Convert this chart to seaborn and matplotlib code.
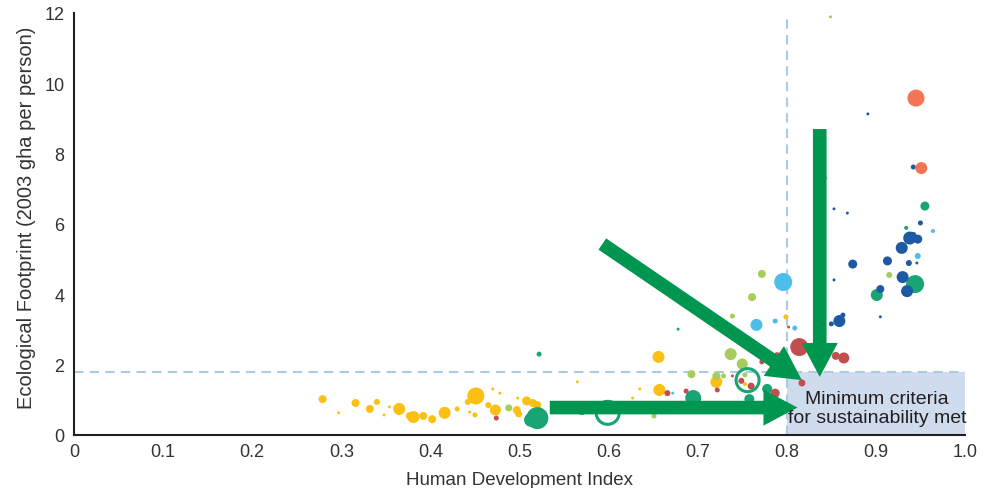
import numpy as np
import pandas as pd
import matplotlib
matplotlib.use("Agg")
import matplotlib.pyplot as plt
import seaborn as sns

# Values: HDI, footprint (gha/person), bubble size
africa_hdi = [0.279, 0.297, 0.316, 0.332, 0.340, 0.348, 0.354, 0.365, 0.377, 0.381,
              0.392, 0.402, 0.416, 0.430, 0.451, 0.442, 0.444, 0.450, 0.470, 0.478,
              0.465, 0.473, 0.498, 0.497, 0.508, 0.515, 0.520, 0.499, 0.512, 0.565,
              0.635, 0.627, 0.656, 0.657, 0.721, 0.753, 0.799]
africa_ef = [1.02, 0.63, 0.91, 0.74, 0.94, 0.57, 0.80, 0.74, 0.54, 0.51,
             0.54, 0.45, 0.63, 0.74, 1.11, 0.94, 0.65, 0.57, 1.31, 1.19,
             0.85, 0.71, 1.05, 0.71, 0.97, 0.91, 0.85, 0.60, 0.54, 1.51,
             1.31, 1.05, 2.22, 1.28, 1.51, 1.45, 3.36]
africa_size = [166, 23, 166, 166, 94, 23, 23, 374, 166, 374,
               166, 166, 374, 65, 751, 94, 23, 65, 23, 23,
               94, 315, 23, 166, 211, 166, 166, 127, 23, 23,
               23, 23, 374, 374, 374, 42, 65]

mideast_hdi = [0.488, 0.651, 0.693, 0.721, 0.729, 0.753, 0.737, 0.750, 0.739, 0.761,
               0.772, 0.844, 0.849, 0.915]
mideast_ef = [0.77, 0.54, 1.73, 1.68, 1.68, 1.71, 2.30, 2.02, 3.38, 3.92,
              4.58, 7.31, 11.89, 4.55]
mideast_size = [127, 65, 166, 166, 65, 65, 374, 315, 65, 166,
                166, 23, 23, 94]

asia_hdi = [0.522, 0.520, 0.513, 0.570, 0.678, 0.695, 0.758, 0.778, 0.934, 0.955,
            0.944, 0.901]
asia_ef = [2.30, 0.48, 0.43, 0.68, 3.01, 1.05, 1.02, 1.31, 5.89, 6.51,
           4.29, 3.98]
asia_size = [65, 1258, 510, 166, 23, 666, 260, 260, 42, 211,
             842, 374]

# India and China drawn as open rings
ring_hdi = [0.599, 0.756]
ring_ef = [0.63, 1.56]

latam_hdi = [0.474, 0.666, 0.687, 0.722, 0.739, 0.749, 0.760, 0.787, 0.817, 0.802,
             0.772, 0.789, 0.814, 0.855, 0.864]
latam_ef = [0.48, 1.19, 1.25, 1.28, 1.68, 1.54, 1.39, 1.19, 1.48, 3.07,
            2.08, 2.27, 2.50, 2.25, 2.19]
latam_size = [65, 94, 65, 65, 23, 94, 127, 211, 127, 23,
              65, 94, 842, 166, 315]

ceeurope_hdi = [0.672, 0.766, 0.787, 0.796, 0.809, 0.947, 0.964]
ceeurope_ef = [1.19, 3.13, 3.24, 4.35, 3.04, 5.09, 5.80]
ceeurope_size = [23, 374, 65, 842, 65, 94, 42]

weurope_hdi = [0.891, 0.942, 0.853, 0.868, 0.950, 0.938, 0.947, 0.942, 0.929, 0.913,
               0.937, 0.946, 0.874, 0.930, 0.935, 0.905, 0.853, 0.905, 0.859, 0.863,
               0.850]
weurope_ef = [9.13, 7.62, 6.43, 6.31, 6.03, 5.60, 5.57, 5.69, 5.32, 4.95,
              4.89, 4.89, 4.86, 4.49, 4.09, 4.15, 4.41, 3.36, 3.24, 3.41,
              3.16]
weurope_size = [23, 65, 23, 23, 65, 440, 211, 94, 374, 211,
                94, 23, 211, 374, 374, 166, 23, 23, 374, 65,
                65]

namerica_hdi = [0.945, 0.951]
namerica_ef = [9.58, 7.59]
namerica_size = [751, 374]

biocapacity = 1.78
hdi_threshold = 0.8

# arrows (start -> tip) in data units
arrow_starts = [(0.534, 0.78), (0.593, 5.43), (0.837, 8.70)]
arrow_tips = [(0.812, 0.78), (0.817, 1.56), (0.837, 1.65)]

palette = {
    "Africa": "#fcbf14",
    "Middle East and Central Asia": "#a5cd5c",
    "Asia-Pacific": "#18a473",
    "Latin America and Caribbean": "#c0504f",
    "Central and Eastern Europe": "#4dbee9",
    "Western Europe": "#1d5aa3",
    "North America": "#f47456",
}

parts = [
    ("Africa", africa_hdi, africa_ef, africa_size),
    ("Middle East and Central Asia", mideast_hdi, mideast_ef, mideast_size),
    ("Asia-Pacific", asia_hdi, asia_ef, asia_size),
    ("Latin America and Caribbean", latam_hdi, latam_ef, latam_size),
    ("Central and Eastern Europe", ceeurope_hdi, ceeurope_ef, ceeurope_size),
    ("Western Europe", weurope_hdi, weurope_ef, weurope_size),
    ("North America", namerica_hdi, namerica_ef, namerica_size),
]
df = pd.concat([pd.DataFrame({"region": r, "hdi": x, "ef": y, "size": s})
                for r, x, y, s in parts], ignore_index=True)

sns.set_style("white")
plt.rcParams["font.family"] = ["Liberation Sans", "DejaVu Sans"]

ink = "#231f20"
label_grey = "#333333"
dash_blue = "#a9cbe9"
arrow_green = "#00964f"

fig = plt.figure(figsize=(9.88, 4.89), dpi=100)
ax = fig.add_axes([0.0749, 0.1084, 0.9018, 0.863])

# sustainability quadrant
ax.fill_between([hdi_threshold, 1.0], 0, biocapacity, color="#cfdcee", lw=0, zorder=0)
ax.plot([0, 1.0], [biocapacity, biocapacity], color=dash_blue, lw=1.5,
        dashes=(4.5, 3), zorder=1)
ax.plot([hdi_threshold, hdi_threshold], [0, 12], color=dash_blue, lw=1.5,
        dashes=(4.5, 3), zorder=1)

sns.scatterplot(data=df, x="hdi", y="ef", hue="region", size="size",
                palette=palette, sizes=(0, 260), size_norm=(0, 1300),
                linewidth=0, edgecolor="none", alpha=1, legend=False,
                ax=ax, zorder=3)
ax.scatter(ring_hdi, ring_ef, s=275, facecolors="none",
           edgecolors=palette["Asia-Pacific"], linewidths=2.2, zorder=3)

for (x0, y0), (x1, y1) in zip(arrow_starts, arrow_tips):
    ax.annotate("", xy=(x1, y1), xytext=(x0, y0),
                arrowprops=dict(arrowstyle="simple,head_length=2.45,head_width=2.6,tail_width=0.98",
                                mutation_scale=10, color=arrow_green, lw=0,
                                shrinkA=0, shrinkB=0),
                zorder=5)

ax.text(0.901, 0.77, "Minimum criteria\nfor sustainability met", ha="center",
        va="center", fontsize=14, color=ink, linespacing=1.2, zorder=6)

ax.set_xlim(0, 1.0)
ax.set_ylim(0, 12)
ax.set_xticks(np.arange(0, 1.01, 0.1))
ax.set_xticklabels(["0"] + [f"{v:.1f}" for v in np.arange(0.1, 1.01, 0.1)])
ax.set_yticks(range(0, 13, 2))
ax.tick_params(direction="in", length=5, width=1.5, colors=ink, labelsize=13,
               labelcolor=label_grey)
ax.tick_params(axis="x", pad=6)
ax.tick_params(axis="y", pad=7)
ax.set_xlabel("Human Development Index", fontsize=13.5, color=label_grey, labelpad=8)
ax.set_ylabel("Ecological Footprint (2003 gha per person)", fontsize=14.5,
              color=label_grey)
ax.yaxis.set_label_coords(-0.043, 0.516)
for side in ["top", "right"]:
    ax.spines[side].set_visible(False)
for side in ["left", "bottom"]:
    ax.spines[side].set_color(ink)
    ax.spines[side].set_linewidth(1.5)

plt.savefig("out.png", dpi=100)
plt.close()
